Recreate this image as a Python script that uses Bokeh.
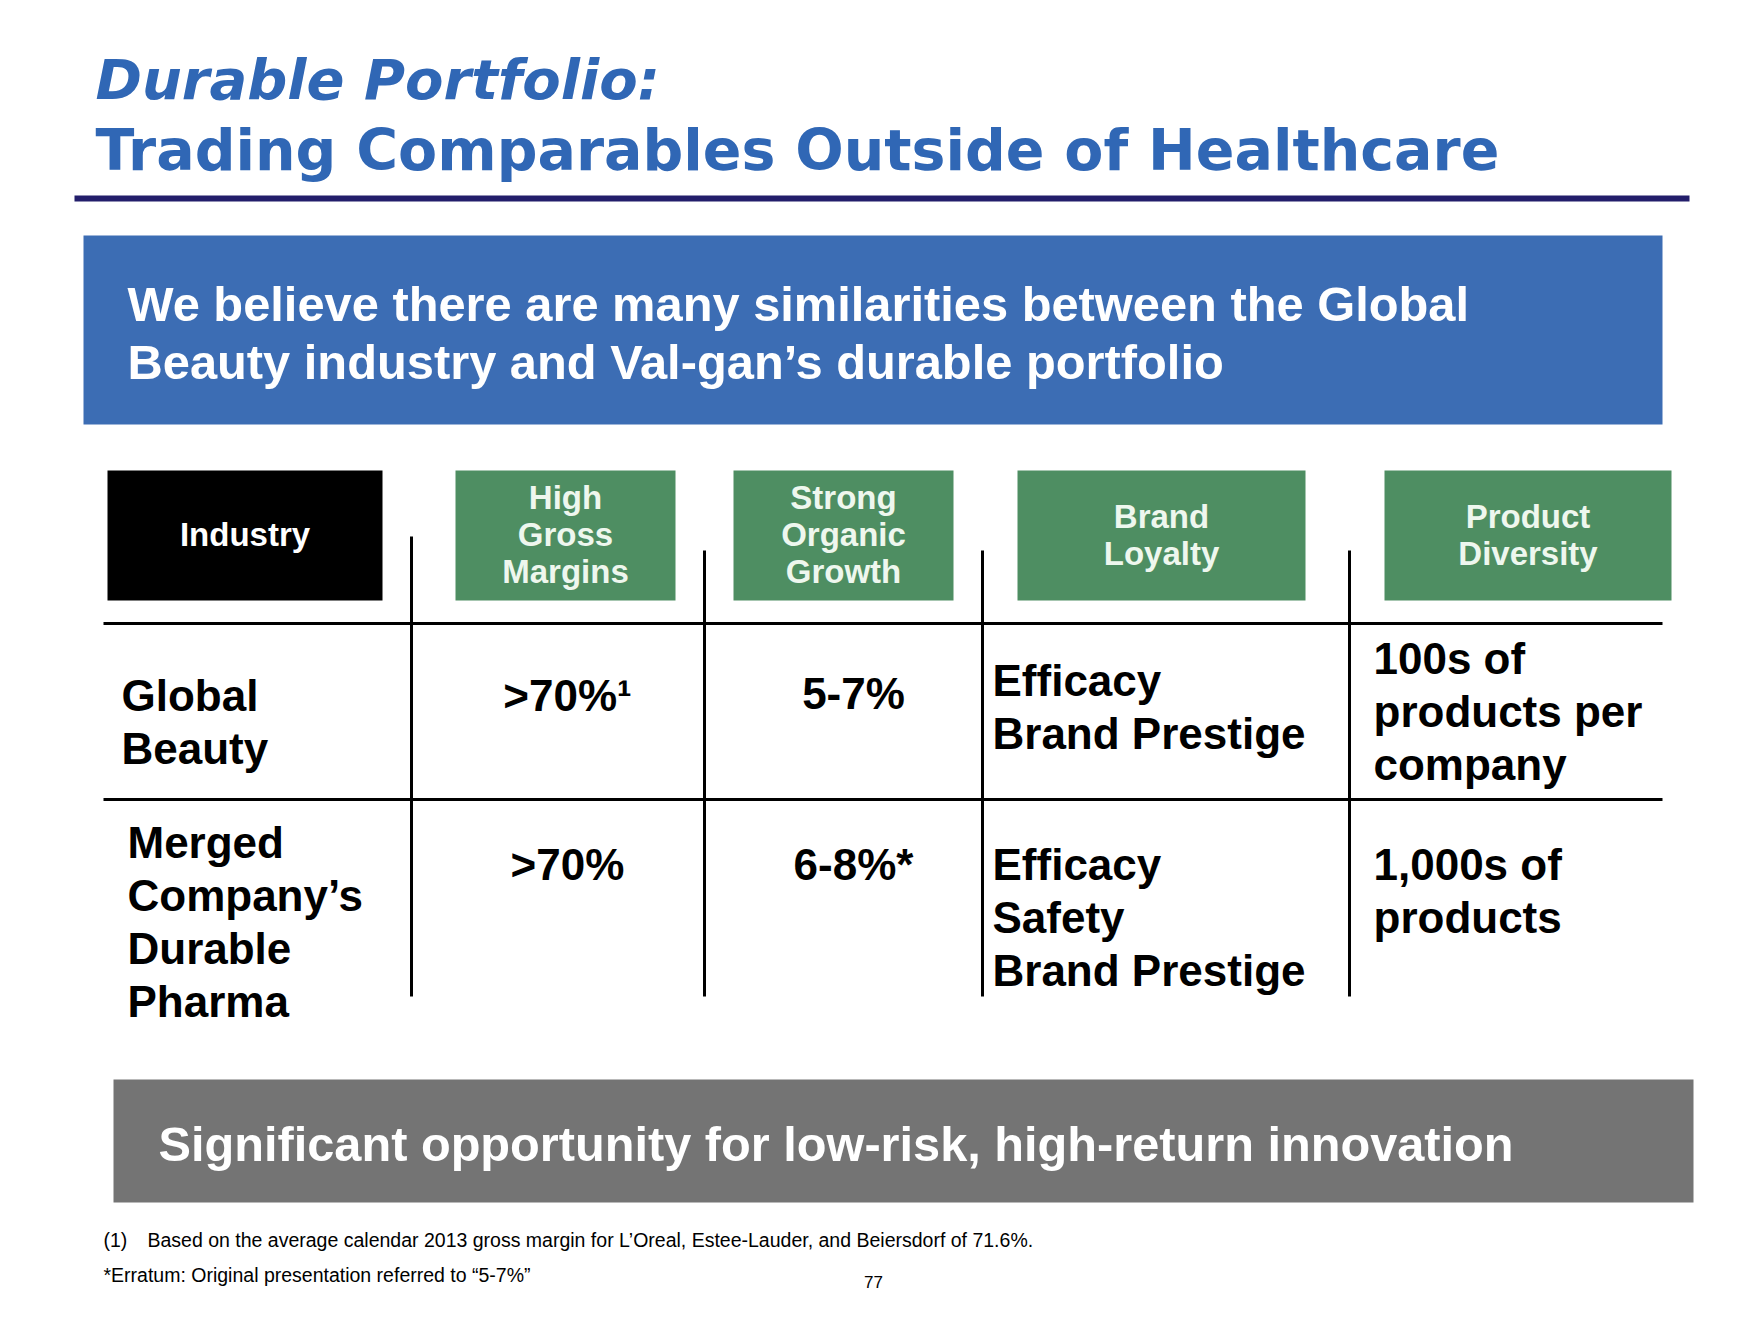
from bokeh.plotting import figure
from bokeh.models import Range1d
from bokeh.core.properties import value
from bokeh.embed import file_html
from bokeh.resources import INLINE

# ---- content ----
title_line1 = "Durable Portfolio:"
title_line2 = "Trading Comparables Outside of Healthcare"
banner_lines = ["We believe there are many similarities between the Global",
                "Beauty industry and Val-gan\u2019s durable portfolio"]
headers = ["Industry", "High\nGross\nMargins", "Strong\nOrganic\nGrowth",
           "Brand\nLoyalty", "Product\nDiversity"]
row_labels = ["Global\nBeauty", "Merged\nCompany\u2019s\nDurable\nPharma"]
gross_margins = [">70%\u00b9", ">70%"]
organic_growth = ["5-7%", "6-8%*"]
brand_loyalty = ["Efficacy\nBrand Prestige", "Efficacy\nSafety\nBrand Prestige"]
product_diversity = ["100s of\nproducts per\ncompany", "1,000s of\nproducts"]
conclusion = "Significant opportunity for low-risk, high-return innovation"
footnote1_num = "(1)"
footnote1 = "Based on the average calendar 2013 gross margin for L\u2019Oreal, Estee-Lauder, and Beiersdorf of 71.6%."
footnote2 = "*Erratum: Original presentation referred to \u201c5-7%\u201d"
page_number = "77"

# ---- styles / layout ----
TITLE_BLUE = "#3067B5"
NAVY = "#231E6B"
BANNER_BLUE = "#3C6DB4"
GREEN = "#4E8E62"
GRAY = "#747474"
HEAD_TXT = "#EEF7EE"

W, H = 1744, 1304
p = figure(width=W, height=H, output_backend="svg", toolbar_location=None,
           x_range=Range1d(0, W), y_range=Range1d(H, 0),
           min_border=0)
p.axis.visible = False
p.grid.visible = False
p.outline_line_color = None
p.background_fill_color = "white"
p.border_fill_color = "white"

def txt(x, y, s, size, font="Liberation Sans", style="bold", color="black",
        align="left"):
    p.text(x=[x], y=[y], text=[s], text_font=value(font), text_font_size=f"{size}px",
           text_font_style=style, text_color=color, text_align=align,
           text_baseline="alphabetic")

def box(x0, x1, y0, y1, color):
    p.quad(left=[x0], right=[x1], top=[y0], bottom=[y1], fill_color=color,
           line_color=None)

# Titles
txt(95, 79, title_line1, 56, font="DejaVu Sans", style="bold italic", color=TITLE_BLUE)
txt(95, 149, title_line2, 57, font="DejaVu Sans", style="bold", color=TITLE_BLUE)
p.segment(x0=[74], x1=[1689], y0=[198], y1=[198], line_color=NAVY, line_width=6)

# Banner
box(83, 1662, 235, 424, BANNER_BLUE)
for i, s in enumerate(banner_lines):
    txt(127, 303 + 58.5 * i, s, 48.8, color="white")

# Header boxes
hdr_x = [(107, 382), (455, 675), (733, 953), (1017, 1305), (1384, 1671)]
hdr_colors = ["black", GREEN, GREEN, GREEN, GREEN]
for (x0, x1), col, h in zip(hdr_x, hdr_colors, headers):
    box(x0, x1, 470, 600, col)
    lines = h.split("\n")
    n = len(lines)
    lh = 37
    yc = 534
    for j, ln in enumerate(lines):
        yy = yc + (j - (n - 1) / 2) * lh
        txt((x0 + x1) / 2, yy, ln, 33, color="white" if col == "black" else HEAD_TXT,
            align="center")

# Grid lines
p.segment(x0=[103, 103], x1=[1662, 1662], y0=[623, 799], y1=[623, 799],
          line_color="black", line_width=3)
vx = [411, 704, 982, 1349]
vtop = [536, 550, 550, 550]
p.segment(x0=vx, x1=vx, y0=vtop, y1=[996] * 4, line_color="black", line_width=3)

# Table body
LH = 53
FS = 44
for s, (x, y0) in zip(row_labels, [(121, 695), (127, 842)]):
    for j, ln in enumerate(s.split("\n")):
        txt(x, y0 + j * LH, ln, FS)
for s, y0 in zip(gross_margins, [695, 864]):
    txt(567, y0, s, FS, align="center")
for s, y0 in zip(organic_growth, [693, 864]):
    txt(853, y0, s, FS, align="center")
for s, y0 in zip(brand_loyalty, [680, 864]):
    for j, ln in enumerate(s.split("\n")):
        txt(992, y0 + j * LH, ln, FS)
for s, y0 in zip(product_diversity, [658, 864]):
    for j, ln in enumerate(s.split("\n")):
        txt(1373, y0 + j * LH, ln, FS)

# Conclusion bar
box(113, 1693, 1079, 1202, GRAY)
txt(158, 1143, conclusion, 48.7, color="white")

# Footnotes
txt(103, 1239, footnote1_num, 19.5, style="normal")
txt(147, 1239, footnote1, 19.5, style="normal")
txt(103, 1274, footnote2, 19.5, style="normal")
txt(873, 1281, page_number, 17, style="normal", align="center")

open("out.html", "w").write(file_html(p, INLINE))
